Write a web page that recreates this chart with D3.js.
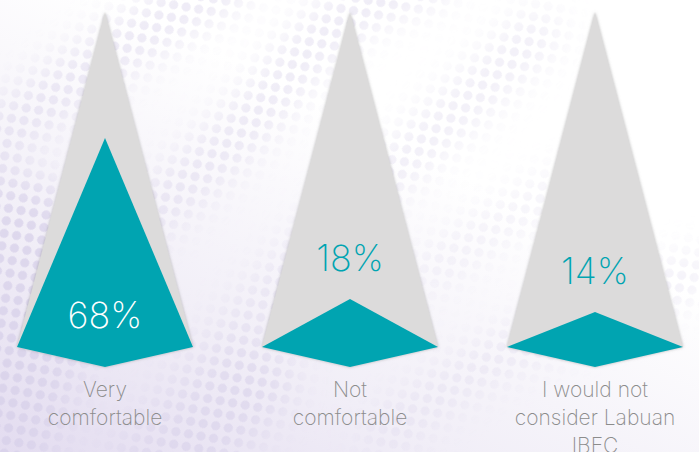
<!DOCTYPE html>
<html>
<head>
<meta charset="utf-8">
<script src="https://cdn.jsdelivr.net/npm/d3@7"></script>
<style>
  html, body { margin: 0; padding: 0; background: #fff; }
  svg { display: block; }
  text { font-family: Inter, Lato, "Open Sans", sans-serif; font-weight: 200; }
</style>
</head>
<body>
<svg width="699" height="452"></svg>
<script>
const categories = ["Very comfortable", "Not comfortable", "I would not consider Labuan IBEC"];
const labelLines = [["Very", "comfortable"], ["Not", "comfortable"], ["I would not", "consider Labuan", "IBEC"]];
const values = [68, 18, 14];

const svg = d3.select("svg");
const width = +svg.attr("width");
const height = +svg.attr("height");

const gray = "#dcdbdb";
const teal = "#00a4b1";

const defs = svg.append("defs");

// lavender wash in the lower left
const wash = defs.append("linearGradient")
  .attr("id", "wash")
  .attr("x1", 0).attr("y1", 1).attr("x2", 0.55).attr("y2", 0.3);
wash.append("stop").attr("offset", 0).attr("stop-color", "#e3dcf0");
wash.append("stop").attr("offset", 0.45).attr("stop-color", "#f1eef7");
wash.append("stop").attr("offset", 1).attr("stop-color", "#ffffff");

// dot pattern for the background swooshes
const dots = defs.append("pattern")
  .attr("id", "dots")
  .attr("patternUnits", "userSpaceOnUse")
  .attr("width", 18).attr("height", 18)
  .attr("patternTransform", "rotate(-35)");
dots.append("circle").attr("cx", 4.5).attr("cy", 4.5).attr("r", 4.6).attr("fill", "#d6cfe9");
dots.append("circle").attr("cx", 13.5).attr("cy", 13.5).attr("r", 4.6).attr("fill", "#d6cfe9");

const blur = defs.append("filter").attr("id", "soft")
  .attr("x", "-20%").attr("y", "-20%").attr("width", "140%").attr("height", "140%");
blur.append("feGaussianBlur").attr("stdDeviation", 20);

const mask = defs.append("mask").attr("id", "bands");
mask.append("rect").attr("width", width).attr("height", height).attr("fill", "#000");
const bandG = mask.append("g").attr("filter", "url(#soft)")
  .attr("fill", "none").attr("stroke", "#fff").attr("stroke-linecap", "round");
bandG.append("path").attr("d", "M-40,170 Q90,60 230,-20").attr("stroke-width", 50).attr("stroke-opacity", 0.7);
bandG.append("path").attr("d", "M-30,330 Q180,220 300,60 Q360,-10 430,-20").attr("stroke-width", 45).attr("stroke-opacity", 0.7);
bandG.append("path").attr("d", "M120,470 Q260,300 360,200 Q460,110 540,30").attr("stroke-width", 40).attr("stroke-opacity", 0.6);
bandG.append("path").attr("d", "M-20,460 Q40,320 20,240").attr("stroke-width", 130);
bandG.append("path").attr("d", "M180,470 Q230,420 260,380").attr("stroke-width", 70).attr("stroke-opacity", 0.8);
bandG.append("path").attr("d", "M380,440 Q470,360 560,330 Q640,300 700,270").attr("stroke-width", 36).attr("stroke-opacity", 0.55);
bandG.append("path").attr("d", "M420,280 Q520,200 590,180").attr("stroke-width", 28).attr("stroke-opacity", 0.5);

const shadow = defs.append("filter").attr("id", "shade")
  .attr("x", "-20%").attr("y", "-10%").attr("width", "140%").attr("height", "120%");
shadow.append("feDropShadow").attr("dx", 0).attr("dy", 0)
  .attr("stdDeviation", 1.6).attr("flood-color", "#7d7d7d").attr("flood-opacity", 0.55);

svg.append("rect").attr("width", width).attr("height", height).attr("fill", "url(#wash)");
svg.append("rect").attr("width", width).attr("height", height)
  .attr("fill", "url(#dots)").attr("mask", "url(#bands)").attr("opacity", 0.7);

// scales
const x = d3.scalePoint().domain(categories).range([105, 595]);
const y = d3.scaleLinear().domain([0, 100]).range([357, 35]);

const tipY = 12;
const baseY = 347;
const notchY = 367;
const halfW = 88;

const arrow = (cx, top) => {
  const p = d3.path();
  p.moveTo(cx, top);
  p.lineTo(cx + halfW, baseY);
  p.lineTo(cx, notchY);
  p.lineTo(cx - halfW, baseY);
  p.closePath();
  return p.toString();
};

const data = categories.map((c, i) => ({ cat: c, value: values[i], lines: labelLines[i] }));

const g = svg.selectAll("g.arrow").data(data).join("g").attr("class", "arrow");

g.append("path")
  .attr("d", d => arrow(x(d.cat), tipY))
  .attr("fill", gray)
  .attr("filter", "url(#shade)");

g.append("path")
  .attr("d", d => arrow(x(d.cat), y(d.value)))
  .attr("fill", teal);

g.append("text")
  .attr("x", d => x(d.cat))
  .attr("y", d => d.value > 50 ? 328 : y(d.value) - 28)
  .attr("text-anchor", "middle")
  .attr("font-size", 36)
  .attr("fill", d => d.value > 50 ? "#ffffff" : teal)
  .text(d => d.value + "%");

g.append("text")
  .attr("text-anchor", "middle")
  .attr("font-size", 21)
  .attr("fill", "#8c8c8c")
  .selectAll("tspan")
  .data(d => d.lines.map(l => ({ l, cx: x(d.cat) })))
  .join("tspan")
  .attr("x", d => d.cx)
  .attr("y", (d, i) => 397 + i * 28)
  .text(d => d.l);
</script>
</body>
</html>
